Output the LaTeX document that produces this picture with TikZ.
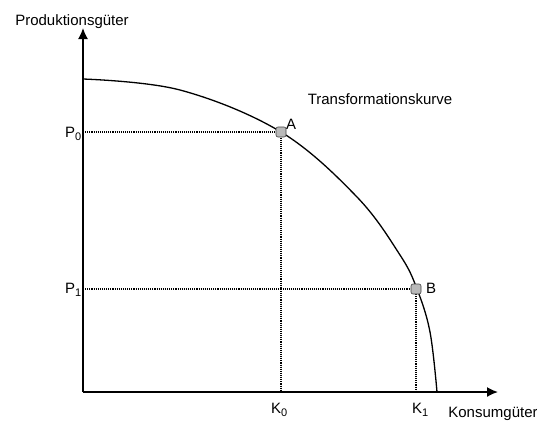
\documentclass[tikz,border=0pt]{standalone}
\usepackage{fontspec}
\setmainfont{Liberation Sans}
\usetikzlibrary{arrows.meta}
\newcommand{\mysub}[1]{\raisebox{-0.5ex}{\fontsize{11}{12}\selectfont #1}}
\begin{document}
\begin{tikzpicture}[x=1pt,y=-1pt,
  lbl/.style={inner sep=0pt,font=\fontsize{15}{17}\selectfont},
  axis/.style={line width=1.6pt,-{Latex[length=11pt,width=10pt]}},
  guide/.style={densely dotted,line width=1.1pt},
  curve/.style={line width=1.3pt},
  pt/.style={draw=gray!50!black,fill=gray!55,rounded corners=2pt,minimum size=10pt,inner sep=0pt,line width=0.6pt}]
\useasboundingbox (0,0) rectangle (537,421);
\fill[white] (0,0) rectangle (537,421);
% key coordinates
\coordinate (O) at (83,392);
\coordinate (Ytip) at (83,28);
\coordinate (Xtip) at (498,392);
\coordinate (P0) at (83,132);
\coordinate (P1) at (83,289);
\coordinate (K0) at (281,392);
\coordinate (K1) at (416,392);
% curve
\draw[curve] plot[smooth,tension=0.6] coordinates {(83,79) (180,90) (281,132) (357,197) (400,255) (417,289) (430,332) (437,392)};
% guides
\node[coordinate] (A) at (281,132) {};
\node[coordinate] (B) at (416,289) {};
\draw[guide] (P0) -- (A) -- (K0);
\draw[guide] (P1) -- (B) -- (K1);
% axes
\draw[axis] (O) -- (Ytip);
\draw[axis] (O) -- (Xtip);
% points
\node[pt] (Am) at (A) {};
\node[pt] (Bm) at (B) {};
% labels
\node[lbl,anchor=base] (ylab) at (72,25) {Produktionsgüter};
\node[lbl,anchor=base] (clab) at (380,104) {Transformationskurve};
\node[lbl,anchor=base] (xlab) at (493,417) {Konsumgüter};
\node[lbl,anchor=base west] (p0l) at (65,137) {P\mysub{0}};
\node[lbl,anchor=base west] (p1l) at (65,293) {P\mysub{1}};
\node[lbl,anchor=base west] (k0l) at (271,413) {K\mysub{0}};
\node[lbl,anchor=base west] (k1l) at (412,413) {K\mysub{1}};
\node[lbl,anchor=base west] (al) at (286,129) {A};
\node[lbl,anchor=base west] (bl) at (426,293) {B};
\end{tikzpicture}
\end{document}
